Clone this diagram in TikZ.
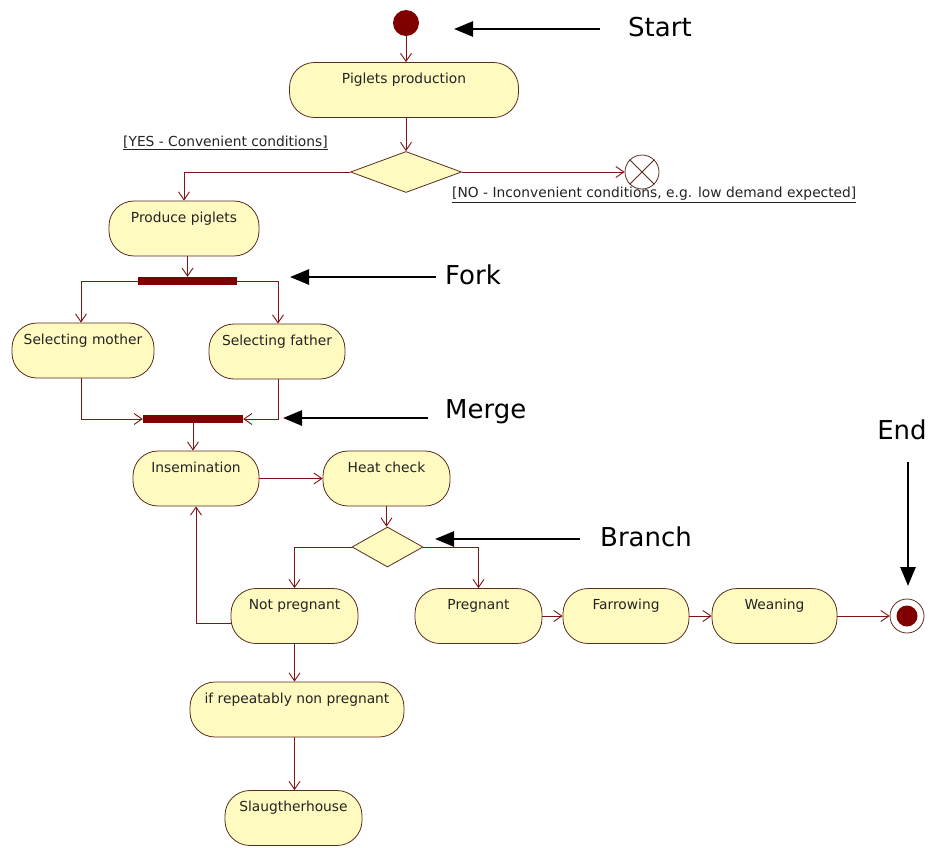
\documentclass[tikz,border=0pt]{standalone}
\usepackage{fontspec}
\setmainfont{DejaVu Sans}
\usetikzlibrary{arrows.meta,shapes.geometric,calc}
\definecolor{actfill}{RGB}{255,250,192}
\definecolor{actline}{RGB}{90,44,30}
\definecolor{flowc}{RGB}{128,20,20}
\definecolor{barfill}{RGB}{128,0,0}
\definecolor{txt}{RGB}{35,35,35}
\newcommand{\actfont}{\fontsize{13.8}{16}\selectfont}
\newcommand{\notefont}{\fontsize{26}{30}\selectfont}
\begin{document}
\begin{tikzpicture}[x=1pt,y=-1pt,
  act/.style={draw=actline, fill=actfill, line width=0.8pt, rounded corners=25pt,
    inner sep=0pt, text height=21pt, text depth=34pt, font=\actfont, text=txt},
  decision/.style={diamond, draw=actline, fill=actfill, line width=0.8pt, inner sep=0pt},
  bar/.style={fill=barfill, inner sep=0pt, minimum width=99pt, minimum height=8pt},
  flow/.style={draw=flowc, line width=0.9pt, -{Straight Barb[length=8pt,width=11pt]}},
  guard/.style={font=\actfont, text=txt, inner sep=0pt, anchor=west},
  note/.style={line width=2.6pt, -{Triangle[length=19pt,width=15pt]}},
  notelabel/.style={font=\notefont, inner sep=0pt}]

\fill[white] (0,0) rectangle (930,847);
\useasboundingbox (0,0) rectangle (930,847);

% start and first decision
\node[circle, fill=barfill, minimum size=26pt, inner sep=0pt] (start) at (406,23) {};
\node[act, minimum width=229pt] (pp) at (404,90) {Piglets production};
\node[decision, minimum width=111pt, minimum height=41pt] (d1) at (406,172) {};
\node[circle, draw=actline, fill=white, line width=0.8pt, minimum size=34pt, inner sep=0pt] (xc) at (642,172) {};
\draw[actline, line width=0.8pt] (xc.north west) -- (xc.south east) (xc.north east) -- (xc.south west);
\node[guard] (yes) at (123,143) {\underline{[YES - Convenient conditions]}};
\node[guard] (no) at (452,195) {\underline{[NO - Inconvenient conditions, e.g. low demand expected]}};

% producing piglets, fork and merge
\node[act, minimum width=150pt] (prod) at (184,228.5) {Produce piglets};
\node[bar] (fork) at (187.5,281) {};
\node[act, minimum width=142pt] (mother) at (83,350.5) {Selecting mother};
\node[act, minimum width=136pt] (father) at (277,351.5) {Selecting father};
\node[bar, minimum width=100pt] (merge) at (193,419) {};

% insemination cycle
\node[act, minimum width=126pt] (insem) at (196,478.5) {Insemination};
\node[act, minimum width=127pt] (heat) at (386.5,478.5) {Heat check};
\node[decision, minimum width=71pt, minimum height=40pt] (d2) at (387.5,547) {};
\node[act, minimum width=127pt] (notp) at (294.5,616) {Not pregnant};
\node[act, minimum width=214pt] (ifrep) at (297,709.5) {if repeatably non pregnant};
\node[act, minimum width=137pt] (slaug) at (293.5,818) {Slaugtherhouse};

% pregnancy line
\node[act, minimum width=127pt] (preg) at (478.5,616) {Pregnant};
\node[act, minimum width=126pt] (farr) at (626,616) {Farrowing};
\node[act, minimum width=125pt] (wean) at (774.5,616) {Weaning};
\node[circle, draw=actline, fill=white, line width=0.8pt, minimum size=34pt, inner sep=0pt] (endc) at (907,616) {};
\fill[barfill] (endc.center) circle (10.5);

% control flow
\draw[flow] (start) -- (start |- pp.north);
\draw[flow] (pp.south -| d1.north) -- (d1.north);
\draw[flow] (d1.east) -- (xc.west);
\draw[flow] (d1.west) -| (prod.north);
\draw[flow] (prod.south -| fork.north) -- (fork.north);
\draw[flow] (fork.west) -| ([xshift=-2pt]mother.north);
\draw[flow] (fork.east) -| ([xshift=1pt]father.north);
\draw[flow] ([xshift=-2pt]mother.south) |- (merge.west);
\draw[flow] ([xshift=1pt]father.south) |- (merge.east);
\draw[flow] (merge.south) -- (merge.south |- insem.north);
\draw[flow] (insem.east) -- (heat.west);
\draw[flow] (heat.south) -- (heat.south |- d2.north);
\draw[flow] (d2.west) -| (notp.north);
\draw[flow] (d2.east) -| (preg.north);
\draw[flow] ($(notp.west)+(0,7)$) -| (insem.south);
\draw[flow] (notp.south) -- (notp.south |- ifrep.north);
\draw[flow] (notp.south |- ifrep.south) -- (notp.south |- slaug.north);
\draw[flow] (preg.east) -- (farr.west);
\draw[flow] (farr.east) -- (wean.west);
\draw[flow] (wean.east) -- (endc.west);

% annotations
\node[notelabel, anchor=west] (lstart) at (628,27) {Start};
\node[notelabel, anchor=west] (lfork) at (445,275) {Fork};
\node[notelabel, anchor=west] (lmerge) at (445,412) {Merge};
\node[notelabel, anchor=west] (lbranch) at (600,537) {Branch};
\node[notelabel] (lend) at (902,430) {End};
\coordinate (sA) at (600,29);  \coordinate (sB) at (454,29);
\coordinate (fA) at (436,277); \coordinate (fB) at (290,277);
\coordinate (mA) at (428,418); \coordinate (mB) at (283,418);
\coordinate (bA) at (580,539); \coordinate (bB) at (435,539);
\coordinate (eA) at (908,462); \coordinate (eB) at (908,586);
\draw[note] (sA) -- (sB);
\draw[note] (fA) -- (fB);
\draw[note] (mA) -- (mB);
\draw[note] (bA) -- (bB);
\draw[note] (eA) -- (eB);
\end{tikzpicture}
\end{document}
